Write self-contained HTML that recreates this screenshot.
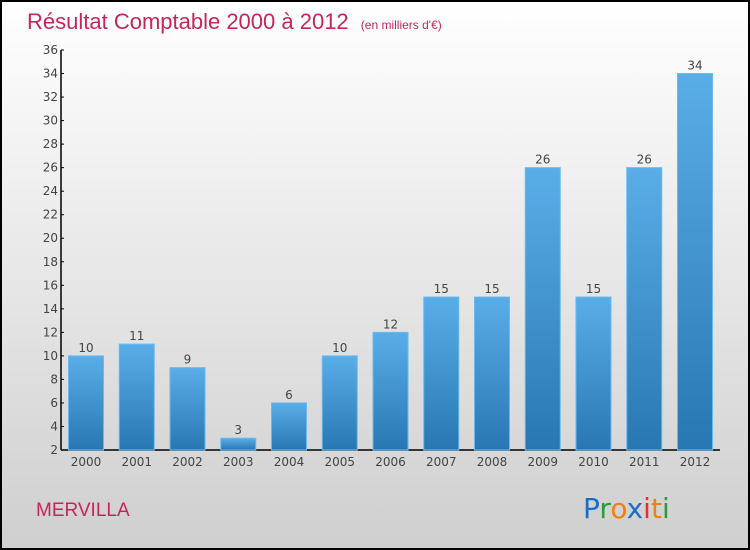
<!DOCTYPE html>
<html><head><meta charset="utf-8"><style>
body{margin:0}
#c{position:relative;width:746px;height:546px;border:2px solid #000;background:linear-gradient(#fff,#cfcfcf);font-family:"DejaVu Sans","Liberation Sans",sans-serif;overflow:hidden}
</style></head><body>
<div id="c">
<svg width="746" height="546" style="position:absolute;left:0;top:0" id="svg">
<defs><linearGradient id="bg" x1="0" y1="0" x2="0" y2="1"><stop offset="0" stop-color="#5aaee8"/><stop offset="1" stop-color="#2877b3"/></linearGradient></defs>
<text x="25" y="27" font-size="22" fill="#c8245c" font-family="Liberation Sans,sans-serif">Résultat Comptable 2000 à 2012 <tspan font-size="12" dx="6">(en milliers d'€)</tspan></text>
<text x="34" y="514" font-size="19" fill="#c8245c" font-family="Liberation Sans,sans-serif">MERVILLA</text>
<g font-size="28" font-family="DejaVu Sans,sans-serif"><text x="581" y="516"><tspan fill="#1a6fc4">P</tspan><tspan fill="#2a9a3a">r</tspan><tspan fill="#f08010">o</tspan><tspan fill="#1a6fc4">x</tspan><tspan fill="#e83020">i</tspan><tspan fill="#f08010">t</tspan><tspan fill="#2a9a3a">i</tspan></text></g>
<g id="g"></g>
</svg>
</div>
<script>
const years=["2000","2001","2002","2003","2004","2005","2006","2007","2008","2009","2010","2011","2012"];
const values=[10,11,9,3,6,10,12,15,15,26,15,26,34];
const yTicks=[2,4,6,8,10,12,14,16,18,20,22,24,26,28,30,32,34,36];
const ns="http://www.w3.org/2000/svg",g=document.getElementById('g');
const ox=-2,oy=-2;
function y(v){return 450+oy-(v-2)*400/34;}
function x(i){return 86+ox+i*50.75;}
function el(t,a,p){const e=document.createElementNS(ns,t);for(const k in a)e.setAttribute(k,a[k]);(p||g).appendChild(e);return e;}
let ax=el('line',{x1:61+ox,y1:y(36),x2:61+ox,y2:y(2),stroke:'#000','stroke-width':1.5});


let bx=el('line',{x1:61+ox,y1:y(2),x2:720+ox,y2:y(2),stroke:'#000','stroke-width':1.5});


yTicks.forEach(t=>{
 el('line',{x1:61+ox,y1:y(t),x2:64+ox,y2:y(t),stroke:'#000'});
 const tx=el('text',{x:58+ox,y:y(t)+4,'text-anchor':'end','font-size':12,fill:'#444'});tx.textContent=t;
 
 
});
years.forEach((yr,i)=>{
 const r=el('rect',{x:x(i)-17.5,y:y(values[i]),width:35,height:y(2)-y(values[i]),fill:'url(#bg)',stroke:'#6ab8ee','stroke-width':1});
 
 
 const l=el('text',{x:x(i),y:y(values[i])-4,'text-anchor':'middle','font-size':12,fill:'#444'});l.textContent=values[i];
 
 
 const c=el('text',{x:x(i),y:y(2)+16,'text-anchor':'middle','font-size':12,fill:'#444'});c.textContent=yr;
 
 
});
</script>
</body></html>
